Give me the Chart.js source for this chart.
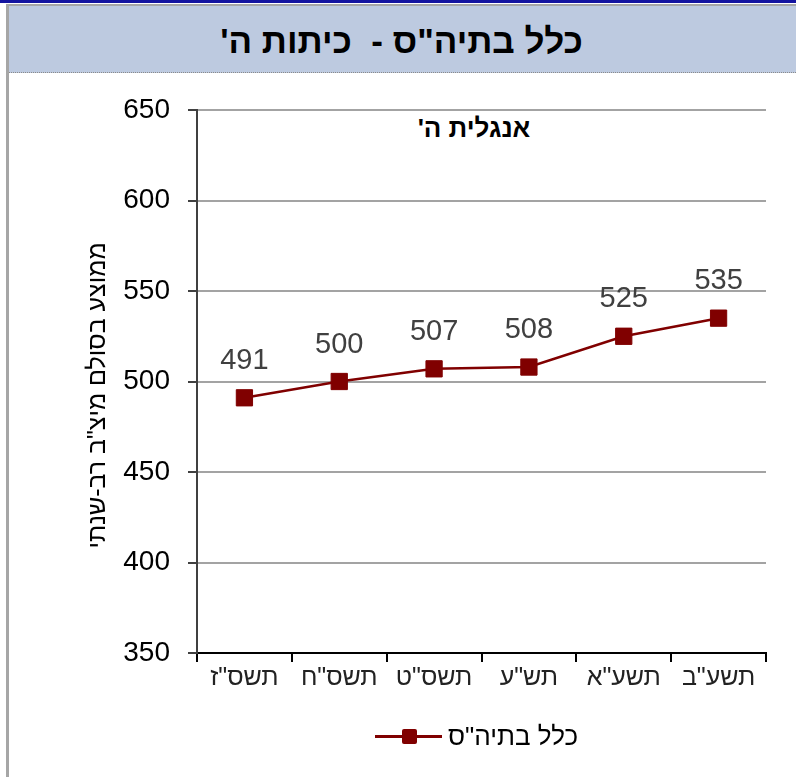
<!DOCTYPE html>
<html lang="he">
<head>
<meta charset="utf-8">
<script src="https://cdn.jsdelivr.net/npm/chart.js@4/dist/chart.umd.min.js"></script>
<style>
  html, body { margin: 0; padding: 0; background: #fff; }
  body { width: 796px; height: 777px; position: relative; overflow: hidden; font-family: "Liberation Sans", Arial, sans-serif; }
  .topline { position: absolute; left: 0; top: 0; width: 796px; height: 3px; background: #1414a0; }
  .frame { position: absolute; left: 6px; top: 4px; width: 3px; height: 773px; background: #a6a6a6; }
  .banner { position: absolute; left: 9px; top: 4px; width: 787px; height: 66px; background: #bdcae0;
            border-top: 2px solid #a6a6a6; border-bottom: 1px dotted #8a8a8a; }
  .banner h1 { margin: 0; font-size: 35px; font-weight: bold; line-height: 70px; text-align: center; direction: rtl; white-space: pre; color: #000; padding-right: 2px; }
  .subtitle { position: absolute; left: 374px; top: 113px; width: 200px; text-align: center; direction: rtl; font-size: 26px; font-weight: bold; color: #000; }
  #chart { position: absolute; left: 9px; top: 72px; }
  .legend { position: absolute; left: 375px; top: 721px; height: 30px; display: flex; align-items: center; }
  .legend .mark { position: relative; width: 67px; height: 30px; }
  .legend .mark .ln { position: absolute; left: 0; top: 14px; width: 67px; height: 3px; background: #800000; }
  .legend .mark .sq { position: absolute; left: 27px; top: 8px; width: 15px; height: 15px; background: #800000; border-radius: 2px; }
  .legend .txt { margin-left: 6px; font-size: 26px; direction: rtl; color: #000; }
</style>
</head>
<body>
<div class="topline"></div>
<div class="banner"><h1>כלל בתיה"ס -  כיתות ה'</h1></div>
<div class="frame"></div>
<div class="subtitle">אנגלית ה'</div>
<canvas id="chart" width="787" height="705"></canvas>
<div class="legend"><div class="mark"><div class="ln"></div><div class="sq"></div></div><span class="txt">כלל בתיה"ס</span></div>

<script>
/* ===== data ===== */
const years = ['תשס"ז', 'תשס"ח', 'תשס"ט', 'תש"ע', 'תשע"א', 'תשע"ב'];
const scores = [491, 500, 507, 508, 525, 535];
const seriesName = 'כלל בתיה"ס';
const yTitle = 'ממוצע בסולם מיצ"ב רב-שנתי';

const FONT = '"Liberation Sans", Arial, sans-serif';

/* value labels above each point */
const valueLabels = {
    id: "valueLabels",
    afterDatasetsDraw(chart) {
        const ctx = chart.ctx;
        const meta = chart.getDatasetMeta(0);
        ctx.save();
        ctx.font = "29px " + FONT;
        ctx.fillStyle = "#404040";
        ctx.textAlign = "center";
        ctx.textBaseline = "middle";
        meta.data.forEach((pt, i) => ctx.fillText(String(scores[i]), pt.x, pt.y - 37));
        ctx.restore();
    }
};

/* y axis title, rotated, a bit below the axis middle like the original */
const yAxisTitle = {
    id: "yAxisTitle",
    afterDraw(chart) {
        const ctx = chart.ctx;
        const area = chart.chartArea;
        ctx.save();
        ctx.translate(89, (area.top + area.bottom) / 2 + 14);
        ctx.rotate(-Math.PI / 2);
        ctx.font = "25px " + FONT;
        ctx.fillStyle = "#000";
        ctx.textAlign = "center";
        ctx.textBaseline = "middle";
        ctx.fillText(yTitle, 0, 0);
        ctx.restore();
    }
};

new Chart(document.getElementById("chart"), {
    type: "line",
    data: {
        labels: years,
        datasets: [{
            label: seriesName,
            data: scores,
            borderColor: "#800000",
            backgroundColor: "#800000",
            borderWidth: 2.5,
            tension: 0,
            pointStyle: "rect",
            pointRadius: 11.5,
            pointHoverRadius: 11.5,
            pointBackgroundColor: "#800000",
            pointBorderColor: "#800000",
            pointBorderWidth: 1
        }]
    },
    options: {
        responsive: false,
        animation: false,
        devicePixelRatio: 1,
        layout: { padding: { top: 38, right: 30, bottom: 74, left: 0 } },
        plugins: {
            legend: { display: false },
            title: { display: false },
            tooltip: { enabled: false }
        },
        scales: {
            x: {
                offset: true,
                grid: { offset: true, drawOnChartArea: false, drawTicks: true, tickLength: 9, tickColor: "#000", lineWidth: 2 },
                border: { color: "#000", width: 2 },
                ticks: { color: "#222", font: { family: FONT, size: 25 }, padding: 1, maxRotation: 0, autoSkip: false },
                afterFit: s => { s.height = 50; }
            },
            y: {
                min: 350,
                max: 650,
                grid: { color: "#a3a3a3", lineWidth: 2, tickLength: 9, tickColor: "#404040" },
                border: { color: "#404040", width: 2 },
                ticks: { stepSize: 50, color: "#000", font: { family: FONT, size: 28 }, padding: 18 },
                afterFit: s => { s.width = 188; }
            }
        }
    },
    plugins: [valueLabels, yAxisTitle]
});
</script>
</body>
</html>
